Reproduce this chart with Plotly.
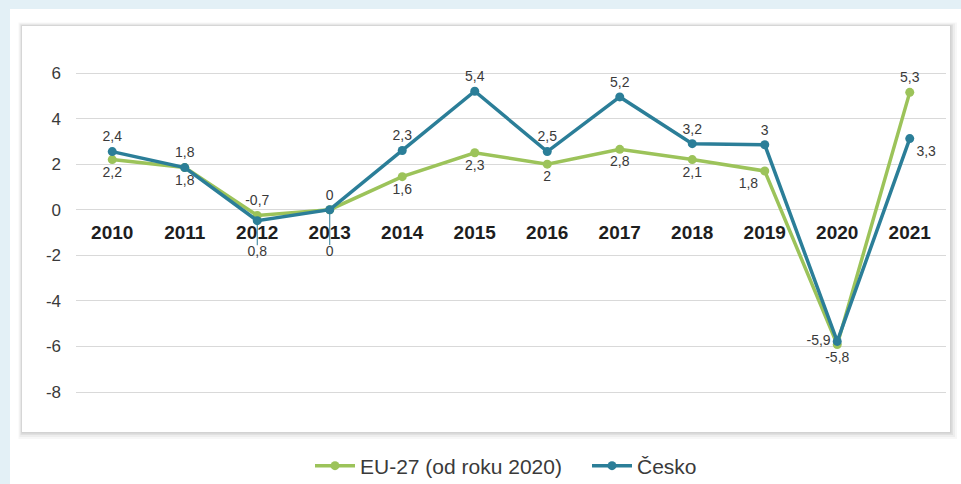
import plotly.graph_objects as go

years = ["2010", "2011", "2012", "2013", "2014", "2015", "2016", "2017", "2018", "2019", "2020", "2021"]
eu_values = [2.2, 1.85, -0.25, 0.0, 1.45, 2.5, 2.0, 2.65, 2.2, 1.7, -5.92, 5.15]
cz_values = [2.55, 1.85, -0.48, 0.0, 2.6, 5.2, 2.55, 4.95, 2.9, 2.85, -5.78, 3.12]
eu_labels = ["2,2", "1,8", "-0,7", "0", "1,6", "2,3", "2", "2,8", "2,1", "1,8", "-5,8", "5,3"]
cz_labels = ["2,4", "1,8", "0,8", "0", "2,3", "5,4", "2,5", "5,2", "3,2", "3", "-5,9", "3,3"]
eu_label_pos = ["bottom center", "bottom center", "top center", "top center", "bottom center",
                "bottom center", "bottom center", "bottom center", "bottom center", "bottom left",
                "bottom center", "top center"]
cz_label_pos = ["top center", "top center", "top center", "top center", "top center",
                "top center", "top center", "top center", "top center", "top center",
                "middle left", "bottom right"]
cz_leader = [0, 0, 1.08, 1.55, 0, 0, 0, 0, 0, 0, 0, 0]
y_ticks = [-8, -6, -4, -2, 0, 2, 4, 6]
y_ticktext = ["-8", "-6", "-4", "-2", "0", "2", "4", "6"]

EU_COLOR = "#9cc35a"
CZ_COLOR = "#2b7e98"
TXT = "#3a3a3a"
FONT = "Liberation Sans, Arial, sans-serif"

L, R, T, B = 76, 15, 30, 64
W, H = 961 - L - R, 484 - T - B


def xp(px):
    return (px - L) / W


def yp(py):
    return (484 - B - py) / H


fig = go.Figure()

fig.add_trace(go.Scatter(
    x=years, y=eu_values, name="EU-27 (od roku 2020)",
    mode="lines+markers+text",
    line=dict(color=EU_COLOR, width=3.5),
    marker=dict(color=EU_COLOR, size=9),
    text=eu_labels, textposition=eu_label_pos,
    textfont=dict(family=FONT, size=14, color=TXT),
    cliponaxis=False,
))

cz_text = [("" if lead > 0 else lab) for lab, lead in zip(cz_labels, cz_leader)]
fig.add_trace(go.Scatter(
    x=years, y=cz_values, name="Česko",
    mode="lines+markers+text",
    line=dict(color=CZ_COLOR, width=3.5),
    marker=dict(color=CZ_COLOR, size=9),
    text=cz_text, textposition=cz_label_pos,
    textfont=dict(family=FONT, size=14, color=TXT),
    error_y=dict(type="data", symmetric=False,
                 array=[0] * len(years), arrayminus=cz_leader,
                 color=CZ_COLOR, thickness=1, width=0),
    cliponaxis=False,
))

lead_idx = [i for i, v in enumerate(cz_leader) if v > 0]
fig.add_trace(go.Scatter(
    x=[years[i] for i in lead_idx],
    y=[cz_values[i] - cz_leader[i] for i in lead_idx],
    mode="text",
    text=[cz_labels[i] for i in lead_idx],
    textposition="bottom center",
    textfont=dict(family=FONT, size=14, color=TXT),
    showlegend=False, hoverinfo="skip", cliponaxis=False,
))

ymin = -8 - (420 - 392) / 22.786
ymax = 6 + (73 - 30) / 22.786

shapes = [
    # outer white page
    dict(type="rect", xref="paper", yref="paper", x0=xp(10), x1=xp(961), y0=yp(484), y1=yp(9),
         fillcolor="white", line=dict(width=0), layer="below"),
]
# card shadow
for off, alpha in [(7, 0.03), (5, 0.04), (3, 0.05), (1.5, 0.06)]:
    shapes.append(dict(type="rect", xref="paper", yref="paper",
                       x0=xp(22 - off / 2), x1=xp(950 + off), y0=yp(432 + off), y1=yp(26 - off / 2),
                       fillcolor=f"rgba(0,0,0,{alpha})", line=dict(width=0), layer="below"))
shapes.append(dict(type="rect", xref="paper", yref="paper", x0=xp(22), x1=xp(950), y0=yp(432), y1=yp(26),
                   fillcolor="white", line=dict(width=0), layer="below"))

fig.update_layout(
    width=961, height=484,
    margin=dict(l=L, r=R, t=T, b=B, autoexpand=False),
    paper_bgcolor="#e3f0f6",
    plot_bgcolor="rgba(0,0,0,0)",
    shapes=shapes,
    font=dict(family=FONT, color=TXT),
    showlegend=True,
    legend=dict(orientation="h", x=xp(310), xanchor="left", y=yp(466), yanchor="middle",
                font=dict(family=FONT, size=21, color=TXT), bgcolor="rgba(0,0,0,0)",
                itemwidth=40, entrywidth=222),
    xaxis=dict(type="category", categoryorder="array", categoryarray=years,
               range=[-0.5, len(years) - 0.5],
               anchor="free", position=(0 - ymin) / (ymax - ymin),
               showgrid=False, showline=False, zeroline=False, ticks="",
               ticklabelstandoff=9,
               tickfont=dict(family=FONT, size=19, color="#1e1e1e", weight="bold")),
    yaxis=dict(range=[ymin, ymax], tickvals=y_ticks, ticktext=y_ticktext,
               showgrid=True, gridcolor="#d9d9d9", gridwidth=1, zeroline=False,
               showline=False, ticks="", ticklabelstandoff=14,
               tickfont=dict(family=FONT, size=17, color=TXT)),
)

fig.write_html(
    "out.html",
    config={"displayModeBar": False},
    post_script="document.body.style.margin='0';document.body.style.overflow='hidden';",
)
